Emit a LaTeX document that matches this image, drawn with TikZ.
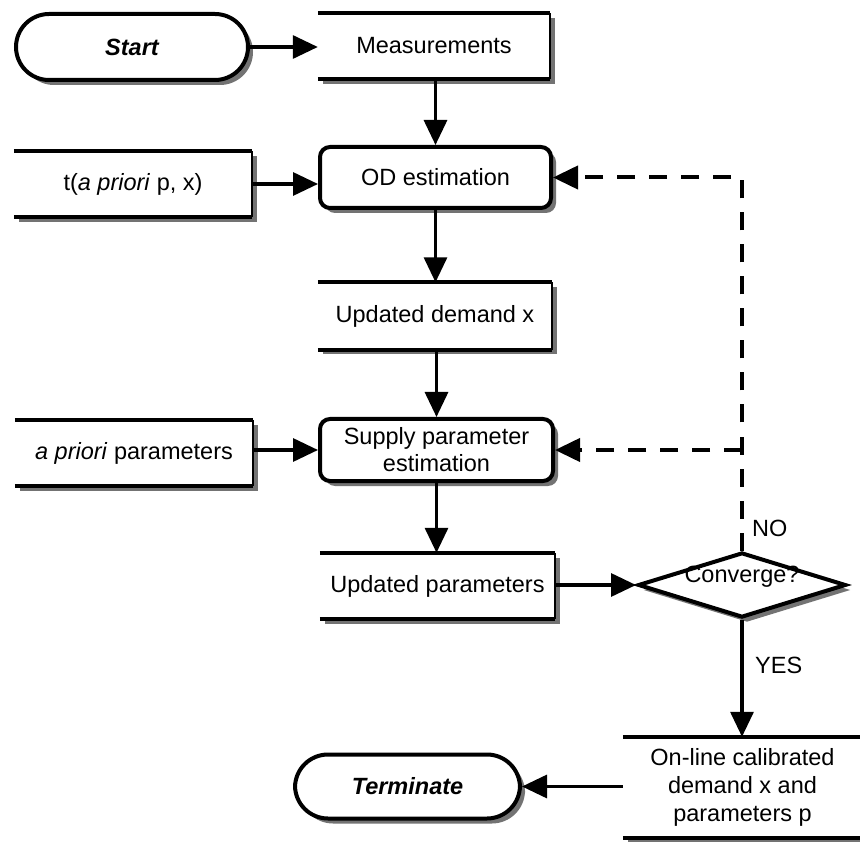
\documentclass[tikz,border=0pt]{standalone}
\usepackage{fontspec}
\setmainfont{Liberation Sans}
\usetikzlibrary{arrows.meta,shapes.geometric,shadows}
\newcommand\docframe[1]{%
  \draw[line width=4pt] (#1.north west) -- (#1.north east);
  \draw[line width=4pt] (#1.south west) -- (#1.south east);
  \draw[line width=2pt] (#1.north east) -- (#1.south east);}
\begin{document}
\begin{tikzpicture}[x=1pt,y=-1pt,
  every node/.style={font=\fontsize{23.5}{27}\selectfont, align=center, inner sep=0pt},
  shad/.style={drop shadow={shadow xshift=5pt, shadow yshift=-5pt, fill=black!55, opacity=1}},
  docbox/.style={fill=white, shad},
  procbox/.style={draw, line width=4pt, fill=white, rounded corners=10pt, shad},
  termbox/.style={draw, line width=4pt, fill=white, rounded corners=33pt, shad, font=\fontsize{23.5}{27}\selectfont\bfseries\itshape},
  decbox/.style={draw, diamond, line width=4pt, fill=white, shad, aspect=3.1},
  arr/.style={line width=3.2pt, -{Triangle[length=25pt,width=23pt]}},
  dasharr/.style={line width=4pt, dash pattern=on 18pt off 14pt, -{Triangle[length=25pt,width=23pt]}},
  lbl/.style={anchor=west}
]
\useasboundingbox (0,0) rectangle (860,842);
\fill[white] (0,0) rectangle (860,842);

% nodes
\node[termbox, minimum width=232pt, minimum height=66pt] (start) at (132,47) {Start};
\node[docbox, minimum width=232pt, minimum height=66pt] (meas) at (434,46) {Measurements};
\node[docbox, minimum width=238pt, minimum height=66pt] (tbox) at (133,184) {t(\textit{a priori} p, x)};
\node[procbox, minimum width=231pt, minimum height=61pt] (od) at (435.5,177.5) {OD estimation};
\node[docbox, minimum width=234pt, minimum height=67pt] (demand) at (435,316) {Updated demand x};
\node[docbox, minimum width=238pt, minimum height=66pt] (apriori) at (134,453) {\textit{a priori} parameters};
\node[procbox, minimum width=233pt, minimum height=62pt] (supply) at (436.5,450) {Supply parameter\\estimation};
\node[docbox, minimum width=235pt, minimum height=66pt] (upar) at (437.5,586) {Updated parameters};
\node[decbox, minimum width=208pt, minimum height=65pt] (conv) at (742,585) {};
\node (convtext) at (742,577) {Converge?};
\node[docbox, minimum width=239pt, minimum height=101pt, font=\fontsize{23.5}{28}\selectfont] (online) at (742.5,787.5) {On-line calibrated\\demand x and\\parameters p};
\node[termbox, minimum width=225pt, minimum height=64pt] (term) at (407.5,786.5) {Terminate};

\docframe{meas}
\docframe{tbox}
\docframe{demand}
\docframe{apriori}
\docframe{upar}
\docframe{online}

% connectors
\draw[arr] (start.east) -- (start.east -| meas.west);
\draw[arr] (od.north |- meas.south) -- (od.north);
\draw[arr] (tbox.east) -- (tbox.east -| od.west);
\draw[arr] (od.south) -- (od.south |- demand.north);
\draw[arr] (demand.south -| supply.north) -- (supply.north);
\draw[arr] (supply.west -| apriori.east) -- (supply.west);
\draw[arr] (supply.south) -- (supply.south |- upar.north);
\draw[arr] (upar.east |- conv.west) -- (conv.west);
\coordinate (corner) at (conv.north |- od.east);
\coordinate (branch) at (conv.north |- supply.east);
\draw[dasharr] (conv.north) -- (corner) -- (od.east);
\draw[dasharr] (branch) -- (supply.east);
\draw[arr] (conv.south) -- (conv.south |- online.north);
\draw[arr] (term.east -| online.west) -- (term.east);

\node[lbl] (no) at (752,528) {NO};
\node[lbl] (yes) at (755,665) {YES};
\end{tikzpicture}
\end{document}
